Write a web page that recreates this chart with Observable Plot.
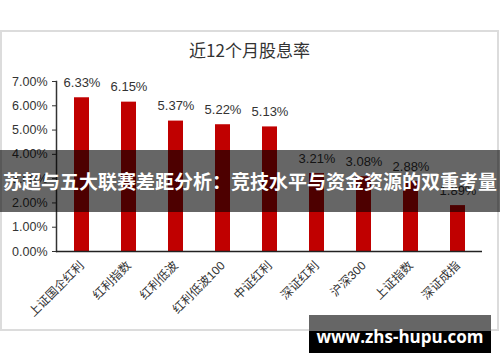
<!DOCTYPE html>
<html>
<head>
<meta charset="utf-8">
<script src="https://cdn.jsdelivr.net/npm/d3@7"></script>
<script src="https://cdn.jsdelivr.net/npm/@observablehq/plot@0.6"></script>
<style>
  html, body { margin: 0; padding: 0; background: #fff; }
  #wrap { position: relative; width: 500px; height: 362px; overflow: hidden; }
  #panel { position: absolute; left: 0; top: 30px; width: 499px; height: 301px; box-sizing: border-box; border: 2px solid #dcdcdc; background: #fff; }
  #title { position: absolute; left: 0; width: 499px; top: 38px; text-align: center; font-family: "Noto Sans CJK SC", sans-serif; font-size: 17px; color: #333; line-height: 24px; }
  #chart { position: absolute; left: 0; top: 0; }
  #banner { position: absolute; left: 0; top: 150px; width: 500px; height: 62px; background: rgba(0,0,0,0.6); color: #fff; font-family: "Noto Sans CJK SC", sans-serif; font-weight: bold; font-size: 19px; line-height: 62px; text-align: center; white-space: nowrap; }
  #wm1 { position: absolute; left: 309px; top: 315px; width: 182px; height: 16px; background: #666; }
  #wm2 { position: absolute; left: 309px; top: 331px; width: 182px; height: 22px; background: #000; }
  #wmtext { position: absolute; left: 309px; top: 323px; width: 182px; height: 28px; line-height: 28px; text-align: center; color: #fff; font-family: "Open Sans", sans-serif; font-weight: bold; font-size: 17px; white-space: nowrap; }
</style>
</head>
<body>
<div id="wrap">
  <div id="panel"></div>
  <div id="chart"></div>
  <div id="title"></div>
  <div id="banner"></div>
  <div id="wm1"></div>
  <div id="wm2"></div>
  <div id="wmtext"></div>
</div>
<script>
const titleText = "近12个月股息率";
const categories = ["上证国企红利", "红利指数", "红利低波", "红利低波100", "中证红利", "深证红利", "沪深300", "上证指数", "深证成指"];
const yieldPct = [6.33, 6.15, 5.37, 5.22, 5.13, 3.21, 3.08, 2.88, 1.89];
const yTickPct = [0, 1, 2, 3, 4, 5, 6, 7];
const bannerText = "苏超与五大联赛差距分析：竞技水平与资金资源的双重考量";
const watermarkText = "www.zhs-hupu.com";

const data = categories.map((c, i) => ({ name: c, value: yieldPct[i] / 100 }));
const yTicks = yTickPct.map(v => v / 100);
const pct = d3.format(".2%");

const chart = Plot.plot({
  width: 500,
  height: 362,
  marginTop: 81,
  marginBottom: 111,
  marginLeft: 56,
  marginRight: 18,
  style: { fontFamily: "'Liberation Sans', 'Noto Sans CJK SC', sans-serif", background: "transparent", overflow: "visible" },
  x: { domain: categories, paddingInner: 0.69, paddingOuter: 0.345, label: null },
  y: { domain: [0, 0.07], label: null },
  marks: [
    Plot.barY(data, { x: "name", y: "value", fill: "#c00000" }),
    Plot.axisY({ ticks: yTicks, tickFormat: pct, tickSize: 4, tickPadding: 5, fontSize: 12.5, color: "#333", label: null }),
    Plot.axisX({ tickRotate: -45, tickSize: 0, tickPadding: 12, fontSize: 12, color: "#333", label: null }),
    Plot.frame({ anchor: "left", stroke: "#333", strokeWidth: 1.5 }),
    Plot.ruleY([0], { stroke: "#222", strokeWidth: 1.5 }),
    Plot.text(data, { x: "name", y: "value", text: d => d3.format(".2f")(d.value * 100) + "%", dy: -15, fontSize: 13, fill: "#333" })
  ]
});
document.getElementById("chart").appendChild(chart);
document.getElementById("title").textContent = titleText;
document.getElementById("banner").textContent = bannerText;
document.getElementById("wmtext").textContent = watermarkText;
</script>
</body>
</html>
